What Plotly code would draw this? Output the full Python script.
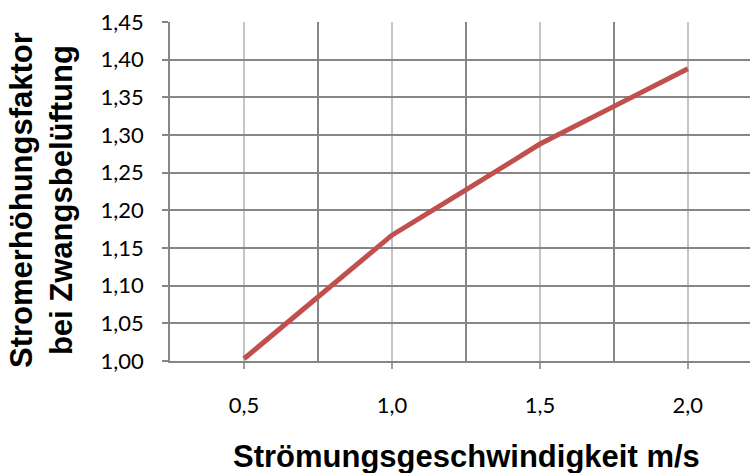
import plotly.graph_objects as go

speed = [0.5, 0.75, 1.0, 1.25, 1.5, 1.75, 2.0]
factor = [1.003, 1.085, 1.167, 1.227, 1.288, 1.338, 1.388]

x_title = "Strömungsgeschwindigkeit m/s"
y_title = "Stromerhöhungsfaktor<br>bei Zwangsbelüftung"

fig = go.Figure()
fig.add_trace(go.Scatter(x=speed, y=factor, mode="lines",
                         line=dict(color="#C0504D", width=5), showlegend=False))

W, H = 750, 473
ml, mr, mt, mb = 170, 0, 22, 112
pw, ph = W - ml - mr, H - mt - mb

def px_x(p):
    return (p - ml) / pw

def px_y(p):
    return (H - mb - p) / ph

fig.update_layout(
    width=W, height=H,
    margin=dict(l=ml, r=mr, t=mt, b=mb),
    paper_bgcolor="white", plot_bgcolor="white",
    separators=",.",
    font=dict(family="Lato", size=22, color="black"),
    xaxis=dict(range=[0.25, 2.21], tick0=0.5, dtick=0.5, tickformat=".1f",
               showgrid=True, gridcolor="#C4C4C4", gridwidth=1.5,
               minor=dict(dtick=0.25, tick0=0.25, showgrid=True, gridcolor="#868686", gridwidth=1.5),
               ticks="outside", ticklen=6, tickcolor="#A0A0A0", tickwidth=1.5,
               showline=True, linecolor="#868686", linewidth=1.5,
               ticklabelstandoff=18, zeroline=False),
    yaxis=dict(range=[1.0, 1.45], tick0=1.0, dtick=0.05, tickformat=".2f",
               showgrid=True, gridcolor="#868686", gridwidth=1.5,
               ticks="outside", ticklen=6, tickcolor="#868686", tickwidth=1.5,
               showline=True, linecolor="#868686", linewidth=1.5,
               ticklabelstandoff=14, zeroline=False),
    annotations=[
        dict(text=y_title, xref="paper", yref="paper", x=px_x(41), y=px_y(200),
             xanchor="center", yanchor="middle", textangle=-90, showarrow=False,
             font=dict(family="Liberation Sans", size=31, color="black", weight="bold")),
        dict(text=x_title, xref="paper", yref="paper", x=px_x(466), y=px_y(456),
             xanchor="center", yanchor="middle", showarrow=False,
             font=dict(family="Liberation Sans", size=31, color="black", weight="bold")),
    ],
)

fig.write_html("out.html", config={"displayModeBar": False},
               post_script="document.body.style.margin='0px';")
